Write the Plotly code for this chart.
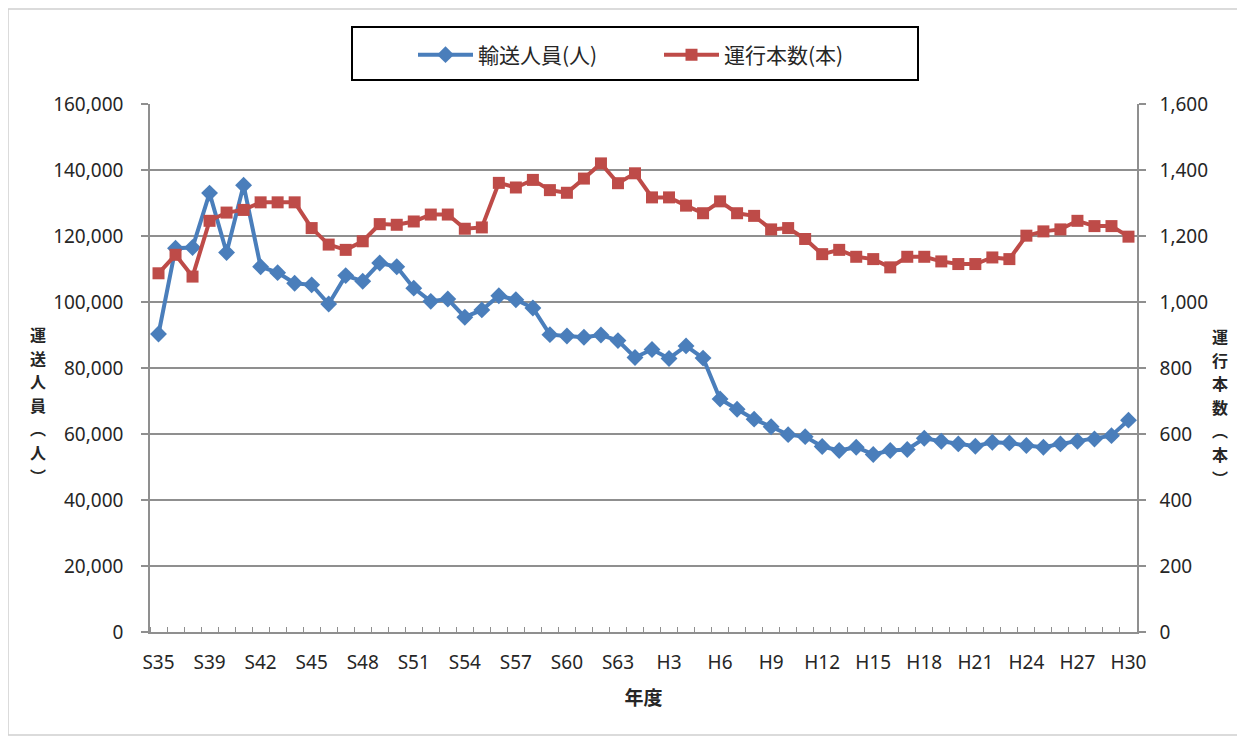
import plotly.graph_objects as go

# ---- data ----
fiscal_years = ["S35", "S37", "S38", "S39", "S40", "S41", "S42", "S43", "S44", "S45",
                "S46", "S47", "S48", "S49", "S50", "S51", "S52", "S53", "S54", "S55",
                "S56", "S57", "S58", "S59", "S60", "S61", "S62", "S63", "H1", "H2",
                "H3", "H4", "H5", "H6", "H7", "H8", "H9", "H10", "H11", "H12",
                "H13", "H14", "H15", "H16", "H17", "H18", "H19", "H20", "H21", "H22",
                "H23", "H24", "H25", "H26", "H27", "H28", "H29", "H30"]

passengers = [90300, 116300, 116500, 133000, 115000, 135400, 110700, 108900, 105700, 105200,
              99400, 108000, 106300, 111800, 110700, 104200, 100200, 100900, 95400, 97600,
              101900, 100700, 98200, 90100, 89700, 89300, 90000, 88300, 83200, 85600,
              82900, 86700, 83000, 70600, 67500, 64500, 62200, 59800, 59200, 56200,
              55000, 56000, 53800, 55000, 55300, 58700, 57800, 57000, 56300, 57500,
              57300, 56500, 56000, 57000, 57800, 58500, 59500, 64200]

trains = [1087, 1143, 1077, 1246, 1271, 1279, 1302, 1302, 1302, 1224,
          1174, 1158, 1184, 1236, 1234, 1244, 1265, 1265, 1222, 1226,
          1361, 1347, 1370, 1339, 1331, 1374, 1420, 1360, 1390, 1317,
          1317, 1292, 1269, 1305, 1269, 1261, 1220, 1224, 1191, 1145,
          1158, 1137, 1130, 1105, 1137, 1137, 1123, 1115, 1115, 1135,
          1130, 1201, 1214, 1220, 1246, 1230, 1230, 1198]

series_names = ["輸送人員(人)", "運行本数(本)"]
left_title = "運送人員(人)"
right_title = "運行本数(本)"
x_title = "年度"

# ---- figure ----
x = list(range(len(fiscal_years)))
label_step = 3
tick_pos = x[::label_step]
tick_txt = fiscal_years[::label_step]

BLUE = "#4A7EBB"
RED = "#BE4B48"
GRID = "#8f8f8f"
TXT = "#262626"
LAT = "Noto Sans, Noto Sans CJK JP, sans-serif"
CJK = "Noto Sans CJK JP, sans-serif"

fig = go.Figure()
fig.add_trace(go.Scatter(
    x=x, y=passengers, name=series_names[0], mode="lines+markers",
    line=dict(color=BLUE, width=4),
    marker=dict(symbol="diamond", size=13, color=BLUE),
    yaxis="y"))
fig.add_trace(go.Scatter(
    x=x, y=trains, name=series_names[1], mode="lines+markers",
    line=dict(color=RED, width=4),
    marker=dict(symbol="square", size=12, color=RED),
    yaxis="y2"))

OFF = 8                      # page body margin
W, H = 1245 - OFF, 738 - OFF
PL, PR, PT, PB = 150, 1137, 104, 632   # plot area in page pixels
L, T = PL - OFF, PT - OFF
R = W - (PR - OFF)
B = H - (PB - OFF)
pw, ph = PR - PL, PB - PT


def px_x(p):
    return (p - PL) / pw


def px_y(p):
    return (PB - p) / ph


fig.update_layout(
    width=W, height=H,
    margin=dict(l=L, r=R, t=T, b=B),
    paper_bgcolor="white", plot_bgcolor="white",
    font=dict(family=LAT, size=18, color=TXT),
    showlegend=True,
    legend=dict(
        orientation="h", x=px_x(413), xanchor="left", y=px_y(55), yanchor="middle",
        font=dict(family=CJK, size=21, color=TXT),
        bgcolor="rgba(0,0,0,0)", borderwidth=0,
        itemwidth=55, entrywidth=176, entrywidthmode="pixels",
        traceorder="normal",
    ),
    xaxis=dict(
        range=[-0.5, len(x) - 0.5],
        tickmode="array", tickvals=tick_pos, ticktext=tick_txt,
        ticks="", showgrid=False, zeroline=False,
        showline=True, linecolor=GRID, linewidth=1.5,
        tickfont=dict(family=LAT, size=19, color=TXT),
        ticklabelstandoff=12,
        minor=dict(ticks="inside", tick0=-0.5, dtick=1, ticklen=5,
                   tickcolor=GRID, tickwidth=1, showgrid=False),
        title=dict(text="<b>" + x_title + "</b>",
                   font=dict(family=CJK, size=19, color=TXT), standoff=18),
    ),
    yaxis=dict(
        range=[0, 160000], dtick=20000, tickformat=",",
        showgrid=True, gridcolor=GRID, gridwidth=1.5,
        zeroline=False, showline=True, linecolor=GRID, linewidth=1.5,
        ticks="outside", ticklen=7, tickcolor=GRID, tickwidth=1.5,
        tickfont=dict(family=LAT, size=19, color=TXT),
        ticklabelstandoff=14,
    ),
    yaxis2=dict(
        range=[0, 1600], dtick=200, tickformat=",",
        overlaying="y", side="right", showgrid=False,
        zeroline=False, showline=True, linecolor=GRID, linewidth=1.5,
        ticks="outside", ticklen=7, tickcolor=GRID, tickwidth=1.5,
        tickfont=dict(family=LAT, size=19, color=TXT),
        ticklabelstandoff=10,
    ),
)

# legend frame
fig.add_shape(type="rect", xref="paper", yref="paper",
              x0=px_x(352), x1=px_x(918), y0=px_y(80), y1=px_y(27),
              line=dict(color="black", width=2), fillcolor="rgba(0,0,0,0)")
# chart-area frame
fig.add_shape(type="rect", xref="paper", yref="paper",
              x0=px_x(8), x1=px_x(1240), y0=px_y(735), y1=px_y(9),
              line=dict(color="#d0d0d0", width=1.5), fillcolor="rgba(0,0,0,0)")


def add_vertical(text, xc, y_start, step):
    t = text.replace("(", "︵").replace(")", "︶")
    for k, c in enumerate(t):
        fig.add_annotation(xref="paper", yref="paper",
                           x=px_x(xc), y=px_y(y_start + k * step),
                           text="<b>" + c + "</b>", showarrow=False,
                           font=dict(family=CJK, size=16, color=TXT),
                           xanchor="center", yanchor="middle", borderpad=0)


add_vertical(left_title, 38, 334, 23.6)
add_vertical(right_title, 1220, 336, 23.6)

fig.write_html("out.html")
